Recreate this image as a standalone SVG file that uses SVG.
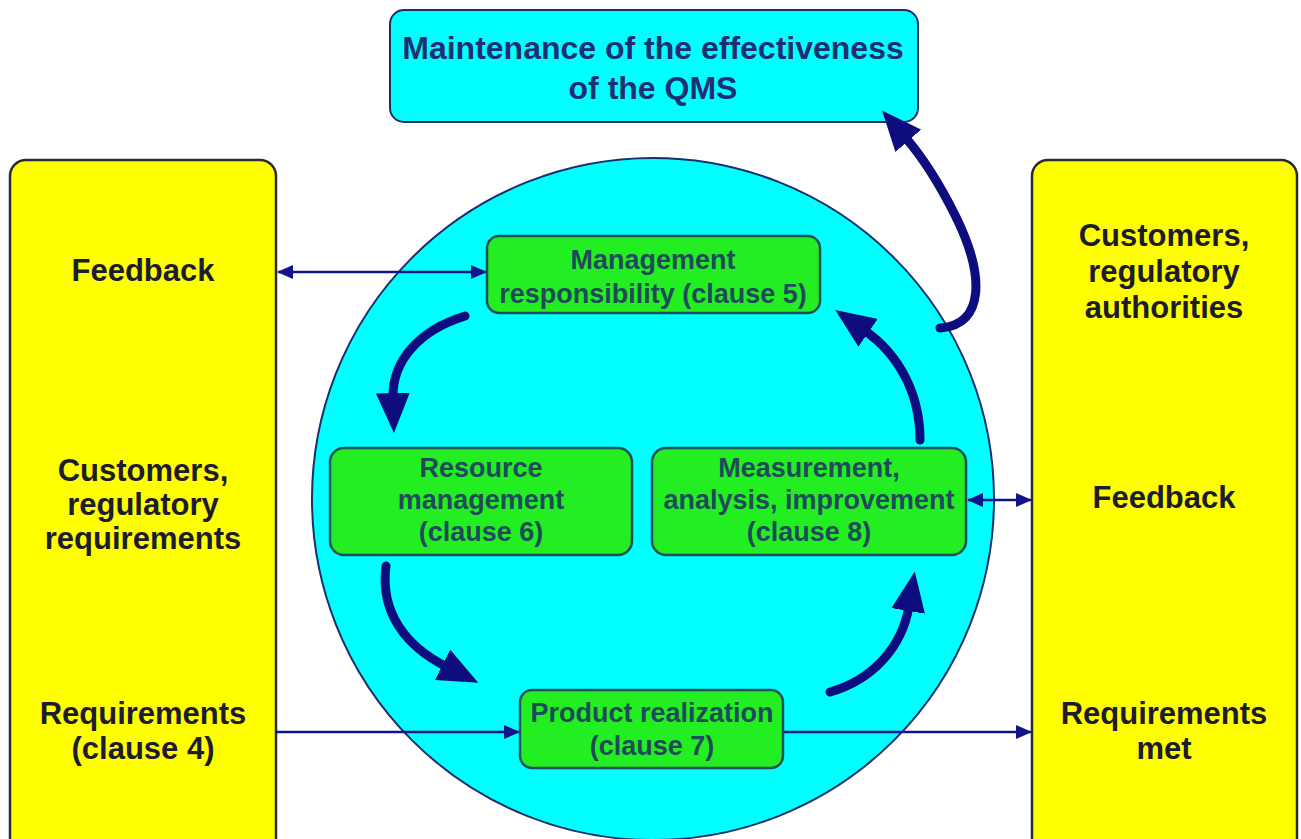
<svg xmlns="http://www.w3.org/2000/svg" width="1301" height="839" viewBox="0 0 1301 839">
<style>
.yel{fill:#FFFF00;stroke:#2b2b35;stroke-width:2.5}
.cy{fill:#00FFFF;stroke:#1c2f6a;stroke-width:2}
.gr{fill:#22EE22;stroke:#1f4f5a;stroke-width:2.5}
.ty{font-family:"Liberation Sans",Arial,sans-serif;font-weight:bold;font-size:31px;fill:#1c1c2c;text-anchor:middle}
.tg{font-family:"Liberation Sans",Arial,sans-serif;font-weight:bold;font-size:27px;fill:#1f4a5a;text-anchor:middle}
.tt{font-family:"Liberation Sans",Arial,sans-serif;font-weight:bold;font-size:32px;fill:#1b2f72;text-anchor:middle}
.thin{fill:none;stroke:#14148a;stroke-width:2.5}
.thick{fill:none;stroke:#0d0d7f;stroke-width:9;stroke-linecap:round}
</style>
<defs>
<marker id="sm" viewBox="0 0 16 14" refX="15" refY="7" markerWidth="16" markerHeight="14" markerUnits="userSpaceOnUse" orient="auto-start-reverse">
<path d="M0,0 L16,7 L0,14 z" fill="#14148a"/>
</marker>
<marker id="big" viewBox="0 0 40 34" refX="5" refY="17" markerWidth="40" markerHeight="34" markerUnits="userSpaceOnUse" orient="auto">
<path d="M0,0 L40,17 L0,34 z" fill="#0d0d7f"/>
</marker>
</defs>

<g id="left-panel">
<rect class="yel" x="10" y="160" width="266" height="700" rx="16"/>
<text class="ty" x="143" y="281">Feedback</text>
<text class="ty" x="143" y="481">Customers,</text>
<text class="ty" x="143" y="515">regulatory</text>
<text class="ty" x="143" y="549">requirements</text>
<text class="ty" x="143" y="724">Requirements</text>
<text class="ty" x="143" y="759">(clause 4)</text>
</g>

<g id="right-panel">
<rect class="yel" x="1032" y="160" width="265" height="700" rx="16"/>
<text class="ty" x="1164" y="246">Customers,</text>
<text class="ty" x="1164" y="282">regulatory</text>
<text class="ty" x="1164" y="318">authorities</text>
<text class="ty" x="1164" y="508">Feedback</text>
<text class="ty" x="1164" y="724">Requirements</text>
<text class="ty" x="1164" y="759">met</text>
</g>

<g id="qms-circle">
<circle class="cy" cx="653" cy="499" r="341"/>
</g>

<g id="maintenance">
<rect class="cy" x="390" y="10" width="528" height="112" rx="14"/>
<text class="tt" x="653" y="59">Maintenance of the effectiveness</text>
<text class="tt" x="653" y="99">of the QMS</text>
</g>

<g id="connectors">
<line class="thin" x1="278" y1="272" x2="486" y2="272" marker-start="url(#sm)" marker-end="url(#sm)"/>
<line class="thin" x1="968" y1="500" x2="1031" y2="500" marker-start="url(#sm)" marker-end="url(#sm)"/>
<line class="thin" x1="276" y1="732" x2="519" y2="732" marker-end="url(#sm)"/>
<line class="thin" x1="783" y1="732" x2="1031" y2="732" marker-end="url(#sm)"/>
<path class="thick" d="M465,316 C420,330 392,360 393,398" marker-end="url(#big)"/>
<path class="thick" d="M386,566 C380,612 405,646 447,667" marker-end="url(#big)"/>
<path class="thick" d="M830,692 C872,680 902,648 909,606" marker-end="url(#big)"/>
<path class="thick" d="M920,440 C920,395 900,355 864,330" marker-end="url(#big)"/>
<path class="thick" d="M940,328 C985,325 985,275 955,215 C940,185 925,160 905,137" marker-end="url(#big)"/>
</g>

<g id="management">
<rect class="gr" x="487" y="236" width="333" height="77" rx="12"/>
<text class="tg" x="653" y="269">Management</text>
<text class="tg" x="653" y="303">responsibility (clause 5)</text>
</g>

<g id="resource">
<rect class="gr" x="330" y="448" width="302" height="107" rx="14"/>
<text class="tg" x="481" y="477">Resource</text>
<text class="tg" x="481" y="509">management</text>
<text class="tg" x="481" y="541">(clause 6)</text>
</g>

<g id="measurement">
<rect class="gr" x="652" y="448" width="314" height="107" rx="14"/>
<text class="tg" x="809" y="477">Measurement,</text>
<text class="tg" x="809" y="509">analysis, improvement</text>
<text class="tg" x="809" y="541">(clause 8)</text>
</g>

<g id="product">
<rect class="gr" x="520" y="690" width="263" height="78" rx="12"/>
<text class="tg" x="652" y="722">Product realization</text>
<text class="tg" x="652" y="755">(clause 7)</text>
</g>
</svg>
